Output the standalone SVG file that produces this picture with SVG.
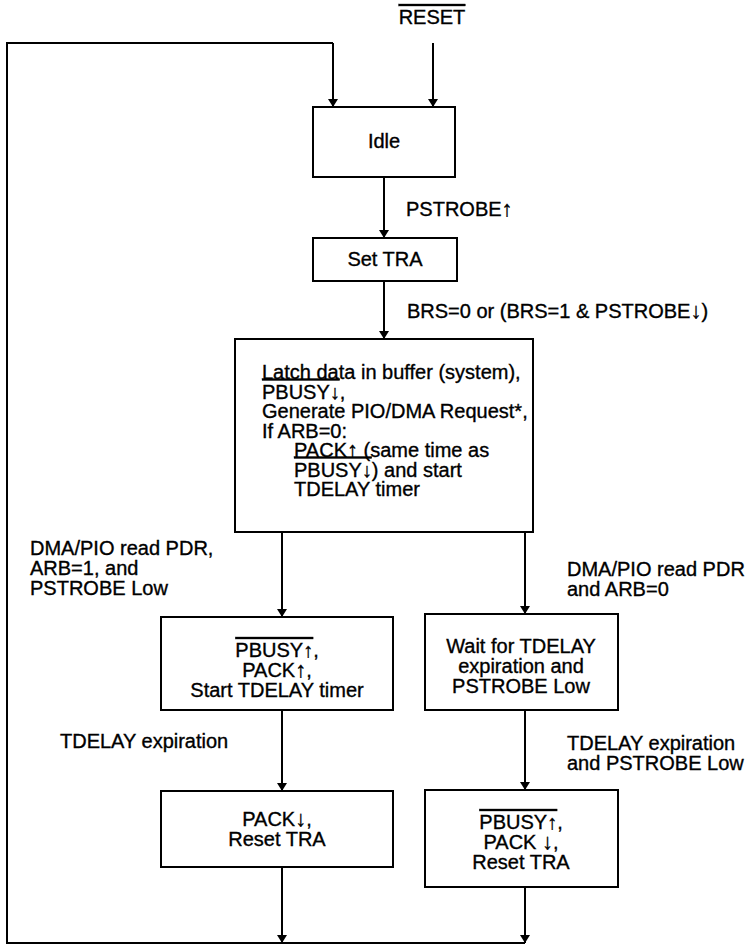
<svg xmlns="http://www.w3.org/2000/svg" width="755" height="946" viewBox="0 0 755 946">
<defs>
<marker id="ah" viewBox="0 0 8 12" refX="8" refY="6" markerWidth="8" markerHeight="12" markerUnits="userSpaceOnUse" orient="auto">
<path d="M0,1 L8,6 L0,11 Z" fill="#000"/>
</marker>
<style>
text{font-family:"Liberation Sans",Arial,sans-serif;font-size:20px;fill:#000;stroke:#000;stroke-width:0.35}
.box{fill:#fff;stroke:#000;stroke-width:2}
.c{text-anchor:middle}
.ln{fill:none;stroke:#000;stroke-width:2}
.arr{fill:none;stroke:#000;stroke-width:2;marker-end:url(#ah)}
.ov{text-decoration:overline}
.a{font-size:22px}
</style>
</defs>
<rect width="755" height="946" fill="#fff"/>
<g id="connectors">
<path class="arr" d="M333,43 L333,107"/>
<path class="ln" d="M333,43 L7,43 L7,943 L525,943"/>
<path class="arr" d="M433,43 L433,107"/>
<path class="arr" d="M384,177 L384,238"/>
<path class="arr" d="M384,281 L384,339"/>
<path class="arr" d="M282,532 L282,617"/>
<path class="arr" d="M525,532 L525,614"/>
<path class="arr" d="M282,710 L282,791"/>
<path class="arr" d="M525,710 L525,790"/>
<path class="arr" d="M282,867 L282,943"/>
<path class="arr" d="M525,887 L525,943"/>
<text x="432" y="24" class="c"><tspan class="ov">RESET</tspan></text>
<text x="406" y="216">PSTROBE<tspan class="a">↑</tspan></text>
<text x="407" y="318">BRS=0 or (BRS=1 &amp; PSTROBE<tspan class="a">↓</tspan>)</text>
<text x="30" y="555">DMA/PIO read PDR,<tspan x="30" dy="20">ARB=1, and</tspan><tspan x="30" dy="20">PSTROBE Low</tspan></text>
<text x="567" y="576">DMA/PIO read PDR<tspan x="567" dy="20">and ARB=0</tspan></text>
<text x="60" y="748">TDELAY expiration</text>
<text x="567" y="750">TDELAY expiration<tspan x="567" dy="20">and PSTROBE Low</tspan></text>
</g>
<g id="idle">
<rect class="box" x="313" y="107" width="142" height="70"/>
<text x="384" y="148" class="c">Idle</text>
</g>
<g id="settra">
<rect class="box" x="313" y="238" width="144" height="43"/>
<text x="385" y="266" class="c">Set TRA</text>
</g>
<g id="latch">
<rect class="box" x="235" y="339" width="298" height="193"/>
<text x="262" y="379">Latch data in buffer (system),<tspan x="262" dy="19.5" class="ov">PBUSY↓</tspan>,<tspan x="262" dy="19.5">Generate PIO/DMA Request*,</tspan><tspan x="262" dy="19.5">If ARB=0:</tspan><tspan x="294" dy="19.5">PACK</tspan><tspan class="a">↑</tspan> (same time as<tspan x="294" dy="19.5" class="ov">PBUSY↓</tspan>) and start<tspan x="294" dy="19.5">TDELAY timer</tspan></text>
</g>
<g id="pbusyup">
<rect class="box" x="161" y="617" width="232" height="93"/>
<text x="277" y="657" class="c"><tspan class="ov">PBUSY↑</tspan>,<tspan x="277" dy="20">PACK</tspan><tspan class="a">↑</tspan>,<tspan x="277" dy="20">Start TDELAY timer</tspan></text>
</g>
<g id="wait">
<rect class="box" x="425" y="614" width="193" height="96"/>
<text x="521" y="653" class="c">Wait for TDELAY<tspan x="521" dy="20">expiration and</tspan><tspan x="521" dy="20">PSTROBE Low</tspan></text>
</g>
<g id="packdown">
<rect class="box" x="161" y="791" width="232" height="76"/>
<text x="277" y="826" class="c">PACK<tspan class="a">↓</tspan>,<tspan x="277" dy="20">Reset TRA</tspan></text>
</g>
<g id="final">
<rect class="box" x="425" y="790" width="193" height="97"/>
<text x="521" y="829" class="c"><tspan class="ov">PBUSY↑</tspan>,<tspan x="521" dy="20">PACK </tspan><tspan class="a">↓</tspan>,<tspan x="521" dy="20">Reset TRA</tspan></text>
</g>
</svg>
